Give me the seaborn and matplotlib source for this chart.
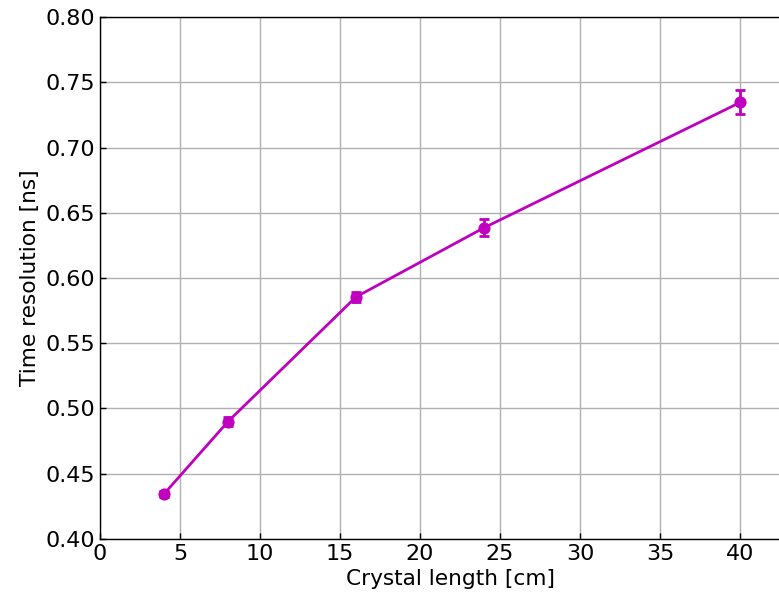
import matplotlib
matplotlib.use("Agg")
import matplotlib.pyplot as plt
import seaborn as sns
import pandas as pd

# Crystal length scan: time resolution with statistical uncertainties
crystal_length = [4, 8, 16, 24, 40]
time_resolution = [0.4345, 0.4900, 0.5855, 0.6385, 0.7345]
resolution_err = [0.0020, 0.0035, 0.0040, 0.0065, 0.0092]

x_ticks = [0, 5, 10, 15, 20, 25, 30, 35, 40]
y_ticks = [0.40, 0.45, 0.50, 0.55, 0.60, 0.65, 0.70, 0.75, 0.80]

sns.set_style("ticks")
plt.rcParams["font.family"] = ["DejaVu Sans"]
plt.rcParams["text.color"] = "black"
plt.rcParams["axes.labelcolor"] = "black"

df = pd.DataFrame({"length": crystal_length, "res": time_resolution, "err": resolution_err})

fig = plt.figure(figsize=(7.79, 5.93), dpi=100)
ax = fig.add_axes([0.1284, 0.0911, 0.8986, 0.8802])

color = "#bf00bf"
sns.lineplot(data=df, x="length", y="res", ax=ax, color=color, linewidth=2,
             marker="o", markersize=8, markeredgecolor=color, zorder=3)
ax.errorbar(df["length"], df["res"], yerr=df["err"], fmt="none", ecolor=color,
            elinewidth=2, capsize=3.5, capthick=2, zorder=3)

ax.set_xlim(0, 43.75)
ax.set_ylim(0.40, 0.80)
ax.set_xticks(x_ticks)
ax.set_yticks(y_ticks)
ax.set_yticklabels([f"{v:.2f}" for v in y_ticks])
ax.grid(True, color="#b0b0b0", linewidth=1)
ax.set_axisbelow(True)
ax.tick_params(direction="in", labelsize=16, length=4, width=1, colors="black")
for s in ax.spines.values():
    s.set_color("black")
    s.set_linewidth(1)

ax.set_xlabel("Crystal length [cm]", fontsize=15.6, color="black")
ax.set_ylabel("Time resolution [ns]", fontsize=15.6, color="black")

fig.savefig("out.png", dpi=100)
